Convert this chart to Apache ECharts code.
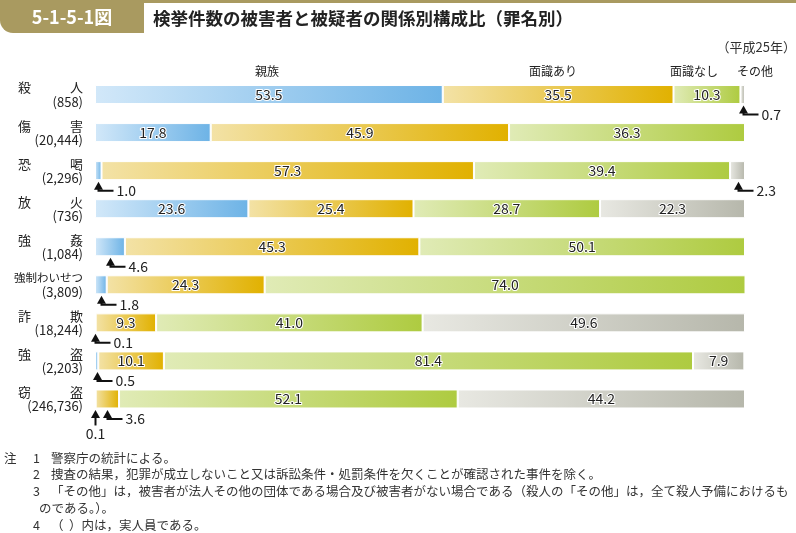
<!DOCTYPE html>
<html><head><meta charset="utf-8">
<script src="https://cdn.jsdelivr.net/npm/echarts@6/dist/echarts.min.js"></script>
<style>html,body{margin:0;padding:0;background:#fff}#c{width:796px;height:533px}</style>
</head><body><div id="c"></div>
<script>
const categories = ['殺人','傷害','恐喝','放火','強姦','強制わいせつ','詐欺','強盗','窃盗'];
const counts = ['858','20,444','2,296','736','1,084','3,809','18,244','2,203','246,736'];
const seriesNames = ['親族','面識あり','面識なし','その他'];
const kin = [53.5,17.8,1.0,23.6,4.6,1.8,0.1,0.5,0.1];
const acquainted = [35.5,45.9,57.3,25.4,45.3,24.3,9.3,10.1,3.6];
const stranger = [10.3,36.3,39.4,28.7,50.1,74.0,41.0,81.4,52.1];
const other = [0.7,0,2.3,22.3,0,0,49.6,7.9,44.2];
// small segments labelled with an arrow below the bar: [row, series, style]
const callouts = [[0,3],[2,0],[2,3],[4,0],[5,0],[6,0],[7,0],[8,0,'below'],[8,1]];
const notes = [
  ['注','1','警察庁の統計による。'],
  ['','2','捜査の結果，犯罪が成立しないこと又は訴訟条件・処罰条件を欠くことが確認された事件を除く。'],
  ['','3','「その他」は，被害者が法人その他の団体である場合及び被害者がない場合である（殺人の「その他」は，全て殺人予備におけるも'],
  ['','','のである。）。'],
  ['','4','（  ）内は，実人員である。']
];

const FONT = '"Noto Sans CJK JP","Noto Sans",sans-serif';
const values = [kin, acquainted, stranger, other];
const grads = [
  ['#d2e8f9','#6db3e6'],
  ['#f3e2a6','#e1b100'],
  ['#e0ebb6','#aecb40'],
  ['#e8e8e2','#b6b7ab']
];
const hidden = values.map(a => a.map(() => false));
callouts.forEach(c => { hidden[c[1]][c[0]] = true; });

const chart = echarts.init(document.getElementById('c'), null, {renderer:'canvas'});
const BW = 19;
function dispName(n){ return n.length === 2 ? n[0] + '　　　' + n[1] : n; }

const series = values.map((arr, si) => ({
  name: seriesNames[si], type: 'bar', stack: 'all', barWidth: BW,
  data: arr,
  itemStyle: {
    color: new echarts.graphic.LinearGradient(0,0,1,0,[{offset:0,color:grads[si][0]},{offset:1,color:grads[si][1]}]),
    borderColor:'#fff', borderWidth:1
  },
  label: {
    show: true, position: 'inside', fontFamily: FONT, fontSize: 14, color: '#222',
    textBorderColor: '#fff', textBorderWidth: 2,
    formatter: p => (hidden[si][p.dataIndex] || !p.value) ? '' : p.value.toFixed(1)
  },
  silent: true, animation: false
}));

chart.setOption({
  animation: false,
  grid: {left: 95, right: 51, top: 75.5, height: 342.5, containLabel: false},
  xAxis: {type:'value', min:0, max:100, show:false},
  yAxis: {
    type:'category', data: categories, inverse: true,
    axisLine:{show:false}, axisTick:{show:false},
    axisLabel: {
      margin: 12, align: 'right', fontFamily: FONT, color:'#222',
      formatter: (v, i) => (v.length > 2 ? '{s|' + v + '}' : '{n|' + dispName(v) + '}') + '\n{c|(' + counts[i] + ')}',
      rich: {
        n:{fontSize:13, lineHeight:15, fontFamily:FONT, color:'#222'},
        s:{fontSize:11.5, lineHeight:15, fontFamily:FONT, color:'#222'},
        c:{fontSize:13, lineHeight:14, fontFamily:FONT, color:'#222'}
      }
    }
  },
  series: series
});

const g = [];
const OL = '#a99a60';
g.push({type:'rect', shape:{x:0,y:0,width:796,height:3}, style:{fill:OL}});
g.push({type:'rect', shape:{x:0,y:0,width:144,height:33,r:[0,0,0,13]}, style:{fill:OL}});
g.push({type:'text', x:72, y:17, style:{text:'5-1-5-1図', fill:'#fff', font:'bold 18px '+FONT, textAlign:'center', textVerticalAlign:'middle'}});
g.push({type:'text', x:153, y:18, style:{text:'検挙件数の被害者と被疑者の関係別構成比（罪名別）', fill:'#222', font:'bold 17.5px '+FONT, textVerticalAlign:'middle'}});
g.push({type:'text', x:796, y:47, style:{text:'（平成25年）', fill:'#333', font:'13px '+FONT, textAlign:'right', textVerticalAlign:'middle'}});
[[267,'親族'],[553,'面識あり'],[694,'面識なし'],[755,'その他']].forEach(l => {
  g.push({type:'text', x:l[0], y:71, style:{text:l[1], fill:'#222', font:'12px '+FONT, textAlign:'center', textVerticalAlign:'middle'}});
});

callouts.forEach(c => {
  const row = c[0], si = c[1], style = c[2];
  let start = 0; for (let k = 0; k < si; k++) start += values[k][row];
  const v = values[si][row];
  const p = chart.convertToPixel({gridIndex:0}, [start + v/2, categories[row]]);
  const x = Math.round(p[0]) + 0.5;
  const bottom = p[1] + BW/2;
  const tip = bottom + 1.5;
  g.push({type:'polygon', shape:{points:[[x,tip],[x-4.5,tip+8],[x+4.5,tip+8]]}, style:{fill:'#111'}});
  const txt = v.toFixed(1);
  if (style === 'below') {
    g.push({type:'line', shape:{x1:x,y1:tip+6,x2:x,y2:bottom+17}, style:{stroke:'#111', lineWidth:2}});
    g.push({type:'text', x:x, y:bottom+25, style:{text:txt, fill:'#222', font:'14px '+FONT, textAlign:'center', textVerticalAlign:'middle'}});
  } else {
    const ly = bottom + 10.5;
    g.push({type:'polyline', shape:{points:[[x,tip+6],[x,ly],[x+15,ly]]}, style:{stroke:'#111', lineWidth:2, fill:null}});
    g.push({type:'text', x:x+18, y:ly, style:{text:txt, fill:'#222', font:'14px '+FONT, textVerticalAlign:'middle'}});
  }
});

notes.forEach((n, i) => {
  const y = 458 + i * 16.7;
  if (n[0]) g.push({type:'text', x:4, y:y, style:{text:n[0], fill:'#333', font:'12.5px '+FONT, textVerticalAlign:'middle'}});
  if (n[1]) g.push({type:'text', x:33, y:y, style:{text:n[1], fill:'#333', font:'12.5px '+FONT, textVerticalAlign:'middle'}});
  g.push({type:'text', x: n[1] ? 51 : 39, y:y, style:{text:n[2], fill:'#333', font:'12.5px '+FONT, textVerticalAlign:'middle'}});
});

chart.setOption({graphic: g});
</script>
</body></html>
